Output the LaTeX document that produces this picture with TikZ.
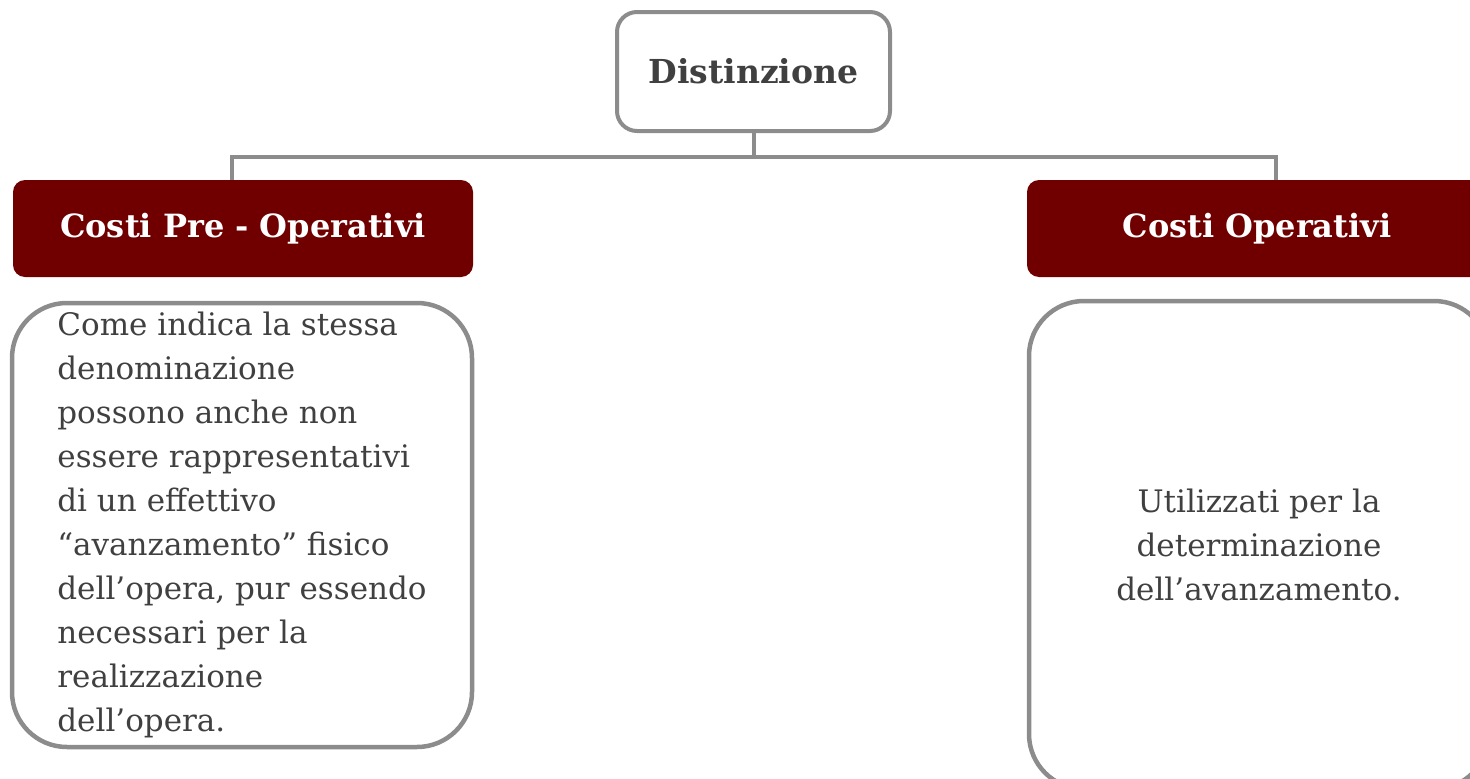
\documentclass[tikz,border=0pt]{standalone}
\usepackage{fontspec}
\setmainfont{DejaVu Serif}
\usepackage{xcolor}
\usetikzlibrary{positioning}
\definecolor{boxgray}{HTML}{8C8C8C}
\definecolor{darkred}{HTML}{700000}
\definecolor{textgray}{HTML}{404040}

\tikzset{
  rootbox/.style={draw=boxgray, line width=4pt, rounded corners=20pt, fill=white,
    text=textgray, font=\fontsize{33}{39}\selectfont\bfseries,
    minimum width=273pt, minimum height=119pt},
  headbox/.style={fill=darkred, rounded corners=12pt, text=white,
    font=\fontsize{32}{38}\selectfont\bfseries,
    minimum width=460pt, minimum height=97pt},
  bodybox/.style={draw=boxgray, line width=4.5pt, rounded corners=55pt,
    text=textgray, font=\fontsize{31}{44}\selectfont, minimum width=460pt},
  link/.style={draw=boxgray, line width=4pt}
}

\begin{document}
\begin{tikzpicture}[x=1pt, y=-1pt]
    \useasboundingbox (0,0) rectangle (1470,779);
    \clip (0,0) rectangle (1470,779);

    \node[rootbox] (root) at (753.5,71.5) {Distinzione};
    \node[headbox] (pre) at (243,228.5) {Costi Pre - Operativi};
    \node[headbox] (op) at (1257,228.5) {Costi Operativi};

    \node[bodybox, minimum height=444pt, inner ysep=0pt, align=left] (prebody) at (242,525) {%
      Come indica la stessa\\
      denominazione\\
      possono anche non\\
      essere rappresentativi\\
      di un effettivo\\
      “avanzamento” fisico\\
      dell’opera, pur essendo\\
      necessari per la\\
      realizzazione\\
      dell’opera.};
    \node[bodybox, minimum height=488pt, align=center] (opbody) at (1259,545) {%
      Utilizzati per la\\
      determinazione\\
      dell’avanzamento.};

    % connectors
    \coordinate (lj) at (232,157);
    \coordinate (rj) at (1276,157);
    \draw[link] (root.south) -- (root.south |- lj);
    \draw[link] (lj |- pre.north) -- (lj) -- (rj) -- (rj |- op.north);
\end{tikzpicture}
\end{document}
